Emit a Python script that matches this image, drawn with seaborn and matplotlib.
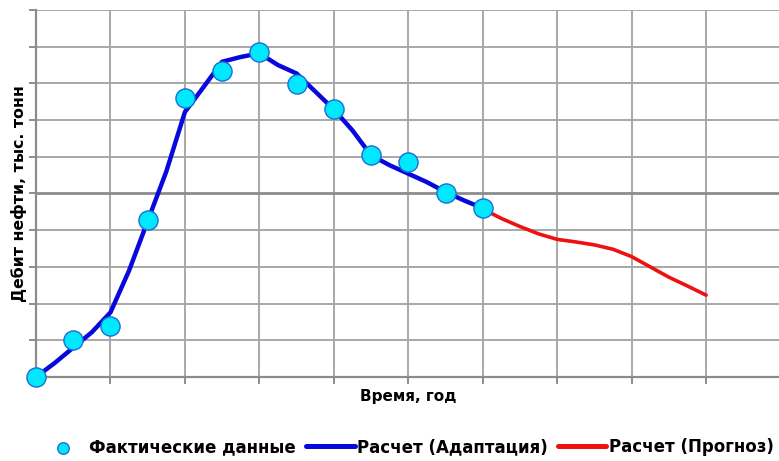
import numpy as np
import matplotlib
matplotlib.use("Agg")
import matplotlib.pyplot as plt
from matplotlib import font_manager
import seaborn as sns

# Observed production (time in grid steps)
fact_t = [0, 1, 2, 3, 4, 5, 6, 7, 8, 9, 10, 11, 12]
fact_q = [0.0, 1.01, 1.39, 4.29, 7.6, 8.33, 8.85, 7.98, 7.30, 6.05, 5.86, 5.01, 4.6]

# Model history-match curve
fit_t = [0, 0.5, 1, 1.5, 2, 2.5, 3, 3.5, 4, 4.5, 5, 5.5, 6, 6.5, 7, 7.5, 8,
         8.5, 9, 9.5, 10, 10.5, 11, 11.5, 12]
fit_q = [0.0, 0.38, 0.8, 1.22, 1.76, 2.9, 4.25, 5.6, 7.22, 7.9, 8.59, 8.72, 8.82,
         8.5, 8.27, 7.78, 7.29, 6.72, 6.04, 5.77, 5.54, 5.31, 5.04, 4.81, 4.6]

# Model forecast
fc_t = [12, 12.5, 13, 13.5, 14, 14.5, 15, 15.5, 16, 16.5, 17, 17.5, 18]
fc_q = [4.58, 4.32, 4.1, 3.9, 3.75, 3.68, 3.6, 3.48, 3.28, 3.0, 2.72, 2.48, 2.23]

sns.set_theme(style="white")
plt.rcParams["font.family"] = ["DejaVu Sans"]
plt.rcParams["text.color"] = "black"
plt.rcParams["axes.labelcolor"] = "black"

fig = plt.figure(figsize=(7.79, 4.61), dpi=100)
ax = fig.add_axes([36 / 779, 1 - 377 / 461, 1 - 36 / 779 + 0.002, (377 - 10) / 461])

sns.lineplot(x=fit_t, y=fit_q, ax=ax, color="#0808dc", lw=3.2,
             label="Расчет (Адаптация)", zorder=3)
sns.lineplot(x=fc_t, y=fc_q, ax=ax, color="#ee1111", lw=2.6,
             label="Расчет (Прогноз)", zorder=3)
sns.scatterplot(x=fact_t, y=fact_q, ax=ax, color="#00e8ff", edgecolor="#1a6fd0",
                linewidth=1.0, s=190, label="Фактические данные", zorder=4,
                clip_on=False)

ax.set_xlim(0, 20)
ax.set_ylim(0, 10)
ax.set_xticks(np.arange(0, 21, 2))
ax.set_yticks(np.arange(0, 11, 1))
ax.set_xticklabels([])
ax.set_yticklabels([])
ax.grid(True, color="#a8a8a8", lw=1.4)
for i, gl in enumerate(ax.get_ygridlines()):
    if i == 5:
        gl.set_color("#8c8c8c")
        gl.set_linewidth(2.0)
ax.tick_params(axis="both", which="both", direction="out", length=5, width=1.4,
               color="#8c8c8c", left=True, bottom=True)
for side in ("top", "right"):
    ax.spines[side].set_visible(False)
for side in ("left", "bottom"):
    ax.spines[side].set_color("#8c8c8c")
    ax.spines[side].set_linewidth(1.6)

ax.set_xlabel("Время, год", fontsize=11, fontweight="bold", labelpad=0)
ax.set_ylabel("Дебит нефти, тыс. тонн", fontsize=11.3, fontweight="bold", labelpad=-2)

handles, labels = ax.get_legend_handles_labels()
order = [labels.index("Фактические данные"), labels.index("Расчет (Адаптация)"),
         labels.index("Расчет (Прогноз)")]
leg_y = (447 - 377) / (377 - 10)
leg = ax.legend([handles[i] for i in order], [labels[i] for i in order],
                loc="center", bbox_to_anchor=(0.497, -leg_y),
                ncol=3, frameon=False, fontsize=12, handlelength=2.9, handletextpad=0.15,
                columnspacing=0.6, markerscale=0.6,
                prop={"weight": "bold", "size": 12})
for h in leg.legend_handles:
    if hasattr(h, "set_linewidth") and not hasattr(h, "get_offsets"):
        h.set_linewidth(3.6)

fig.savefig("out.png", dpi=100)
